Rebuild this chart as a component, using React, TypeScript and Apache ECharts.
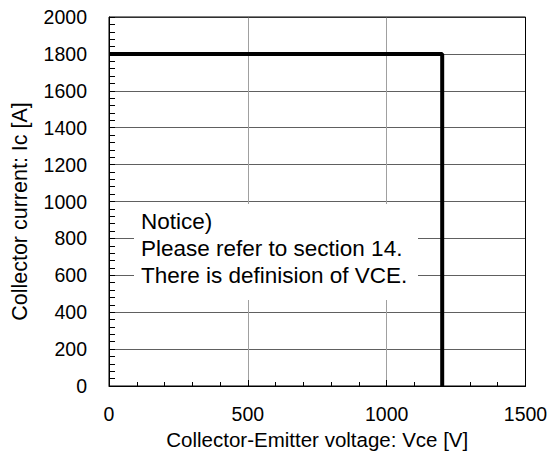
import React, { useEffect, useRef } from "react";
import * as echarts from "echarts";

const FONT = "'Liberation Sans', Arial, Helvetica, sans-serif";

const soaVoltage = [0, 1200, 1200];
const soaCurrent = [1800, 1800, 0];
const xTicks = { min: 0, max: 1500, interval: 500 };
const yTicks = { min: 0, max: 2000, interval: 200 };
const noticeLines = [
  "Notice)",
  "Please refer to section 14.",
  "There is definision of VCE.",
];
const xTitle = "Collector-Emitter voltage: Vce [V]";
const yTitle = "Collector current: Ic [A]";

export default function App() {
  const ref = useRef<HTMLDivElement>(null);
  useEffect(() => {
    if (!ref.current) return;
    const chart = echarts.init(ref.current, null, { renderer: "svg" });
    const data = soaVoltage.map((v, i) => [v, soaCurrent[i]]);
    chart.setOption({
      animation: false,
      backgroundColor: "#ffffff",
      textStyle: { fontFamily: FONT },
      grid: {
        left: 109,
        right: 29.5,
        top: 17,
        bottom: 75,
        show: true,
        borderColor: "#000",
        borderWidth: 1,
        backgroundColor: "transparent",
        z: 3,
      },
      xAxis: {
        type: "value",
        min: xTicks.min,
        max: xTicks.max,
        interval: xTicks.interval,
        name: xTitle,
        nameLocation: "middle",
        nameGap: 43,
        nameTextStyle: { fontSize: 20.5, color: "#000", fontFamily: FONT },
        axisLine: { show: true, lineStyle: { color: "#000", width: 1 } },
        axisTick: { show: true, inside: true, length: 6, lineStyle: { color: "#000" } },
        minorTick: { show: true, splitNumber: 5, length: 4, lineStyle: { color: "#000" } },
        axisLabel: {
          fontSize: 19.5,
          color: "#000",
          margin: 18,
          fontFamily: FONT,
          formatter: (v: number) => String(v),
        },
        splitLine: { show: true, lineStyle: { color: "#a0a0a0", width: 1 } },
      },
      yAxis: {
        type: "value",
        min: yTicks.min,
        max: yTicks.max,
        interval: yTicks.interval,
        name: yTitle,
        nameLocation: "middle",
        nameGap: 78,
        nameTextStyle: { fontSize: 21.5, color: "#000", fontFamily: FONT, padding: [0, 20, 0, 0] },
        axisLine: { show: true, lineStyle: { color: "#000", width: 1 } },
        axisTick: { show: true, inside: true, length: 6, lineStyle: { color: "#000" } },
        minorTick: { show: true, splitNumber: 5, length: 6, lineStyle: { color: "#000" } },
        axisLabel: {
          fontSize: 19.5,
          color: "#000",
          margin: 22,
          fontFamily: FONT,
          formatter: (v: number) => String(v),
        },
        splitLine: { show: true, lineStyle: { color: "#606060", width: 1 } },
      },
      series: [
        {
          type: "line",
          data,
          symbol: "none",
          lineStyle: { color: "#000", width: 4 },
          z: 5,
        },
      ],
      graphic: [
        {
          type: "rect",
          shape: { x: 134, y: 204, width: 284, height: 96 },
          style: { fill: "#ffffff" },
          z: 10,
        },
        ...noticeLines.map((t, i) => ({
          type: "text",
          x: 141,
          y: 221.5 + i * 27,
          z: 11,
          style: {
            text: t,
            fontSize: 22.5,
            fontFamily: FONT,
            fill: "#000",
            align: "left",
            verticalAlign: "middle",
          },
        })),
      ],
    });
    return () => chart.dispose();
  }, []);
  return (
    <div
      ref={ref}
      style={{ position: "absolute", left: 0, top: 0, width: 555, height: 461 }}
    />
  );
}
